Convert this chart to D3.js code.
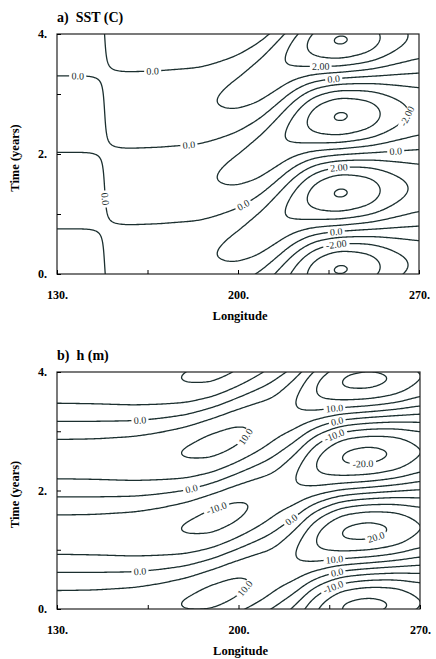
<!DOCTYPE html>
<html>
<head>
<meta charset="utf-8">
<script src="https://cdn.jsdelivr.net/npm/d3@7"></script>
<style>
  body { margin: 0; background: #fff; }
</style>
</head>
<body>
<div id="chart"></div>
<script>
// ---- values ----
const period = 2.55;      // years between two warm events
const warmPeak = 1.35;    // time of the warm SST maximum near 240E

// SST: amplitude (C) and time lag (years) of the oscillation along the equator
const sstLon = [130, 142, 157, 170, 185, 192, 200, 208, 215, 222, 230, 239, 250, 260, 270];
const sstAmp = [0.45, 0.45, 0.6, 0.7, 0.85, 1.0, 1.25, 1.55, 1.85, 2.4, 3.5, 4.2, 3.6, 2.4, 1.7];
const sstLag = [0.04, 0.04, -1.17, -1.15, -1.1, -1.02, -0.9, -0.7, -0.45, -0.2, -0.05, 0, 0.03, 0.06, 0.09];
const sstLevels = [-4, -3, -2, -1, 0, 1, 2, 3, 4];

// thermocline depth h: amplitude (m) and lag (years)
const hLon = [130, 145, 160, 170, 180, 190, 198, 206, 214, 222, 230, 240, 250, 260, 270];
const hAmp = [7.3, 7.5, 8.2, 9.0, 10.3, 11.5, 11.2, 9.8, 8.0, 10.0, 15.5, 20.5, 21.5, 19.5, 14.5];
const hLag = [-1.37, -1.37, -1.36, -1.32, -1.26, -1.14, -1.0, -0.85, -0.68, -0.45, -0.2, -0.07, -0.03, 0.0, 0.03];
const hLevels = [-20, -15, -10, -5, 0, 5, 10, 15, 20];

// contour label spots (lon, years, level)
const sstLabelLon   = [138, 167, 148, 181, 203, 232, 237, 263, 261, 239, 238, 238];
const sstLabelTime  = [3.23, 3.36, 1.25, 2.12, 1.08, 3.41, 3.22, 2.68, 2.1, 1.72, 0.68, 0.46];
const sstLabelLevel = [0, 0, 0, 0, 0, 2, 0, -2, 0, 2, 0, -2];

const hLabelLon   = [162, 237, 238, 237, 203, 248, 182, 192, 221, 253, 237, 162, 238, 203, 237];
const hLabelTime  = [3.19, 3.42, 3.18, 2.91, 2.91, 2.54, 1.99, 1.63, 1.47, 1.22, 0.84, 0.62, 0.61, 0.33, 0.33];
const hLabelLevel = [0, 10, 0, -10, 10, -20, 0, -10, 0, 20, 10, 0, 0, 10, -10];

const lonTicks = [130, 165, 200, 235, 270];
const timeTicks = [0, 1, 2, 3, 4];

// ---- grid ----
const lonMin = 118, lonMax = 282, dLon = 0.5;
const tMin = -0.25, tMax = 4.25, dT = 0.02;
const nx = Math.round((lonMax - lonMin) / dLon) + 1;
const ny = Math.round((tMax - tMin) / dT) + 1;
const ink = "#1b2f2f";
const serif = "'Liberation Serif', 'DejaVu Serif', serif";

function smooth(arr, r) {
  for (let pass = 0; pass < 3; pass++) {
    const src = arr.slice();
    for (let i = 0; i < arr.length; i++) {
      let s = 0;
      for (let k = -r; k <= r; k++) s += src[Math.min(arr.length - 1, Math.max(0, i + k))];
      arr[i] = s / (2 * r + 1);
    }
  }
  return arr;
}

function buildGrid(lons, amps, lags) {
  const w = 2 * Math.PI / period;
  const cScale = d3.scaleLinear().domain(lons).range(lons.map((l, i) => amps[i] * Math.cos(w * lags[i]))).clamp(true);
  const sScale = d3.scaleLinear().domain(lons).range(lons.map((l, i) => amps[i] * Math.sin(w * lags[i]))).clamp(true);
  const cs = smooth(d3.range(nx).map(i => cScale(lonMin + i * dLon)), 5);
  const ss = smooth(d3.range(nx).map(i => sScale(lonMin + i * dLon)), 5);
  const values = new Float64Array(nx * ny);
  for (let r = 0; r < ny; r++) {
    const ph = w * (tMin + r * dT - warmPeak);
    const cp = Math.cos(ph), sp = Math.sin(ph);
    for (let c = 0; c < nx; c++) values[r * nx + c] = cs[c] * cp + ss[c] * sp;
  }
  return values;
}

const svg = d3.select("#chart").append("svg")
    .attr("width", 436)
    .attr("height", 659)
    .style("font-family", serif);

function drawPanel(cfg) {
  const x = d3.scaleLinear().domain([130, 270]).range([cfg.left, cfg.right]);
  const y = d3.scaleLinear().domain([0, 4]).range([cfg.bottom, cfg.top]);
  const g = svg.append("g");

  g.append("clipPath").attr("id", "clip-" + cfg.key)
    .append("rect")
    .attr("x", cfg.left).attr("y", cfg.top)
    .attr("width", cfg.right - cfg.left).attr("height", cfg.bottom - cfg.top);

  const values = buildGrid(cfg.lons, cfg.amps, cfg.lags);
  const contours = d3.contours().size([nx, ny]).thresholds(cfg.levels)(values);

  const toPx = p => [x(lonMin + (p[0] - 0.5) * dLon), y(tMin + (p[1] - 0.5) * dT)];
  const proj = d3.geoTransform({
    point(a, b) { const p = toPx([a, b]); this.stream.point(p[0], p[1]); }
  });
  const path = d3.geoPath(proj);

  g.append("g")
    .attr("clip-path", `url(#clip-${cfg.key})`)
    .selectAll("path")
    .data(contours)
    .join("path")
    .attr("d", path)
    .attr("fill", "none")
    .attr("stroke", ink)
    .attr("stroke-width", 1.3)
    .attr("stroke-linejoin", "round");

  // labels sit on the nearest point of their contour, along the line
  const labels = g.append("g");
  cfg.labelLon.forEach((lon, i) => {
    const level = cfg.labelLevel[i];
    const c = contours.find(d => d.value === level);
    const tx = x(lon), ty = y(cfg.labelTime[i]);
    let best = null, bd = Infinity;
    c.coordinates.forEach(poly => poly.forEach(ring => {
      const pts = ring.map(toPx);
      pts.forEach((p, j) => {
        if (p[0] < cfg.left + 3 || p[0] > cfg.right - 3 || p[1] < cfg.top + 3 || p[1] > cfg.bottom - 3) return;
        const d = (p[0] - tx) ** 2 + (p[1] - ty) ** 2;
        if (d < bd) { bd = d; best = { pts, j }; }
      });
    }));
    if (!best) return;
    const n = best.pts.length;
    const a = best.pts[(best.j - 4 + n) % n], b = best.pts[(best.j + 4) % n];
    let ang = Math.atan2(b[1] - a[1], b[0] - a[0]) * 180 / Math.PI;
    if (ang > 90) ang -= 180;
    if (ang <= -90) ang += 180;
    const txt = cfg.format(level);
    const lg = labels.append("g")
      .attr("transform", `translate(${best.pts[best.j][0]},${best.pts[best.j][1]}) rotate(${ang})`);
    const tw = txt.length * 4.7 + 3;
    lg.append("rect").attr("x", -tw / 2).attr("y", -4).attr("width", tw).attr("height", 8).attr("fill", "#fff");
    lg.append("text")
      .attr("text-anchor", "middle")
      .attr("dy", "0.35em")
      .attr("font-size", 10)
      .attr("fill", ink)
      .text(txt);
  });

  g.append("rect")
    .attr("x", cfg.left).attr("y", cfg.top)
    .attr("width", cfg.right - cfg.left).attr("height", cfg.bottom - cfg.top)
    .attr("fill", "none").attr("stroke", "#222").attr("stroke-width", 1.2);

  const yAxis = d3.axisLeft(y).tickValues(timeTicks).tickSize(-4).tickPadding(10)
    .tickFormat(d => d % 2 === 0 ? d + "." : "");
  g.append("g").attr("transform", `translate(${cfg.left},0)`).call(yAxis)
    .call(a => a.select(".domain").remove())
    .attr("font-family", serif).attr("font-size", 12).attr("font-weight", "bold");

  const xAxis = d3.axisBottom(x).tickValues(lonTicks).tickSize(-4).tickPadding(16)
    .tickFormat(d => (d - 130) % 70 === 0 ? d + "." : "");
  g.append("g").attr("transform", `translate(0,${cfg.bottom})`).call(xAxis)
    .call(a => a.select(".domain").remove())
    .attr("font-family", serif).attr("font-size", 12).attr("font-weight", "bold");

  g.append("text")
    .attr("x", cfg.left).attr("y", cfg.top - 12)
    .attr("font-size", 14).attr("font-weight", "bold")
    .style("white-space", "pre")
    .text(cfg.title);

  g.append("text")
    .attr("x", (cfg.left + cfg.right) / 2 + 2).attr("y", cfg.bottom + 46)
    .attr("text-anchor", "middle")
    .attr("font-size", 12.5).attr("font-weight", "bold")
    .text("Longitude");

  g.append("text")
    .attr("transform", `translate(19,${(cfg.top + cfg.bottom) / 2 + 4}) rotate(-90)`)
    .attr("text-anchor", "middle")
    .attr("font-size", 12.5).attr("font-weight", "bold")
    .text("Time (years)");
}

drawPanel({
  key: "sst", title: "a)  SST (C)",
  left: 57, right: 419, top: 34, bottom: 274,
  lons: sstLon, amps: sstAmp, lags: sstLag, levels: sstLevels,
  labelLon: sstLabelLon, labelTime: sstLabelTime, labelLevel: sstLabelLevel,
  format: v => v === 0 ? "0.0" : v.toFixed(2)
});

drawPanel({
  key: "h", title: "b)  h (m)",
  left: 57, right: 420, top: 372, bottom: 609,
  lons: hLon, amps: hAmp, lags: hLag, levels: hLevels,
  labelLon: hLabelLon, labelTime: hLabelTime, labelLevel: hLabelLevel,
  format: v => v.toFixed(1)
});
</script>
</body>
</html>
